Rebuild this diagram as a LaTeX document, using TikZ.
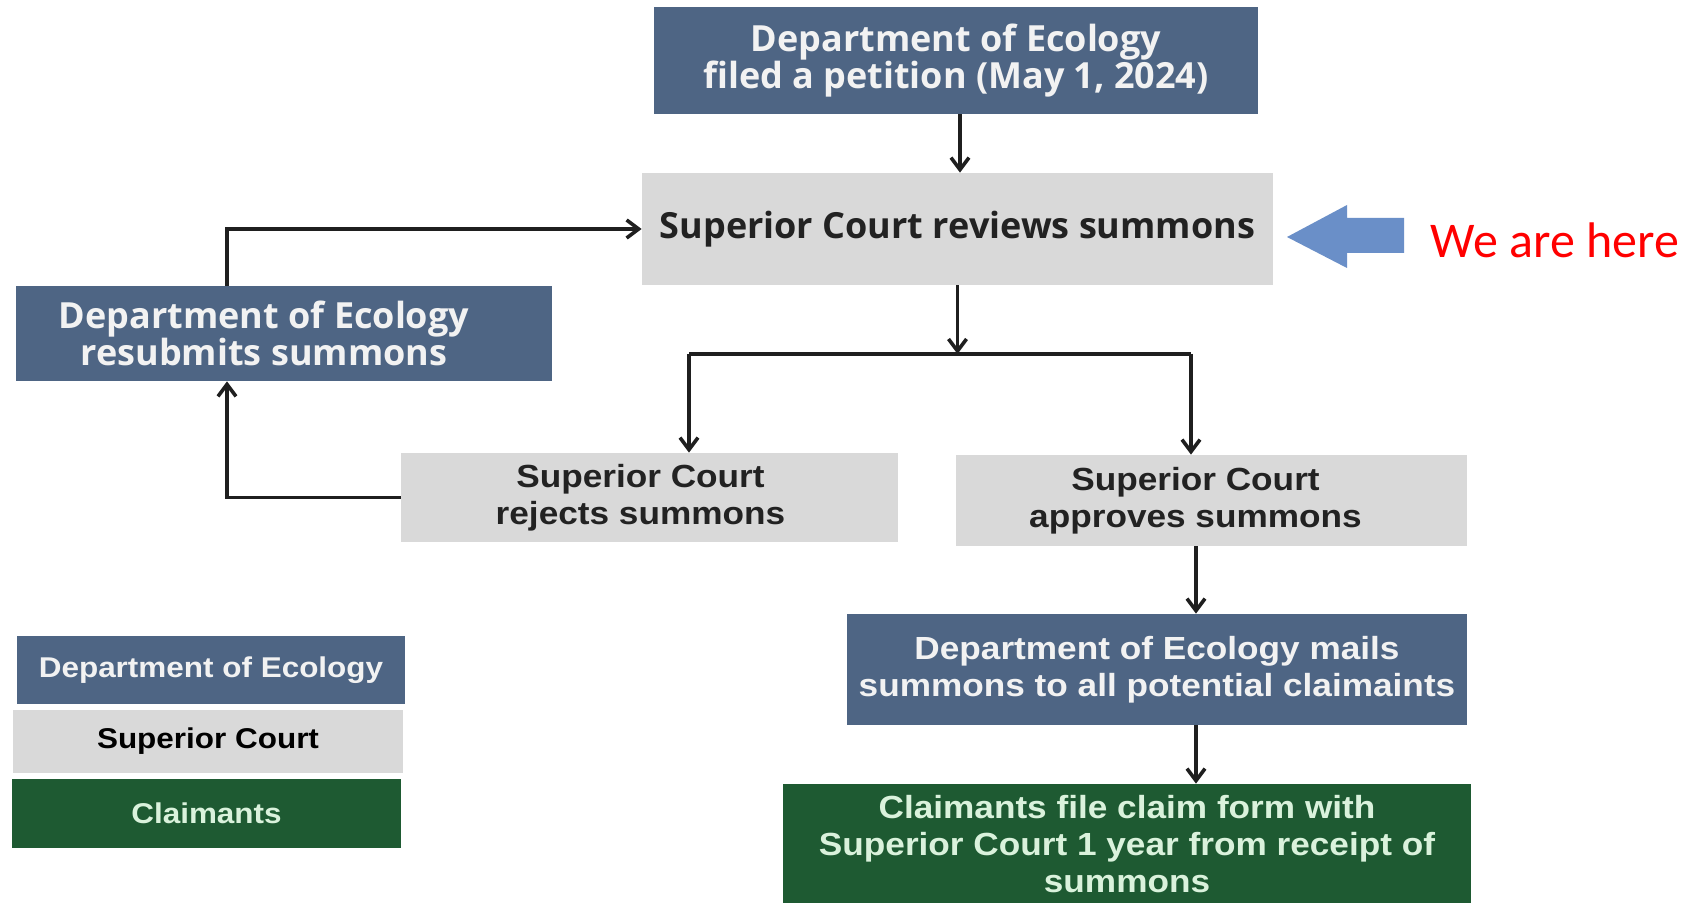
\documentclass[tikz,border=0pt]{standalone}
\usepackage{fontspec}
\setmainfont{Open Sans}
\newfontfamily\condfont[FakeStretch=1.1]{Liberation Sans}
\newfontfamily\calfont{Carlito}
\usetikzlibrary{arrows.meta}
\definecolor{deblue}{HTML}{4E6584}
\definecolor{scgray}{HTML}{D9D9D9}
\definecolor{clgreen}{HTML}{1E5A32}
\definecolor{arrowblue}{HTML}{6A8FC8}
\definecolor{cltext}{HTML}{DAF2DC}
\definecolor{darktext}{HTML}{222222}
\begin{document}
\begin{tikzpicture}[x=0.5pt,y=-0.5pt,
  base/.style={inner sep=0pt, align=center},
  deo/.style={base, fill=deblue, text=white!95!black},
  sc/.style={base, fill=scgray, text=darktext},
  cl/.style={base, fill=clgreen, text=cltext},
  bigfont/.style={font=\bfseries\fontsize{18}{18.4}\selectfont},
  cfont/.style={font=\condfont\bfseries\fontsize{16}{18.7}\selectfont},
  lfont/.style={font=\condfont\bfseries\fontsize{14.3}{17}\selectfont},
  conn/.style={line width=1.8pt, draw=black!88, -{Straight Barb[length=6pt,width=9pt]}},
  plain/.style={line width=1.8pt, draw=black!88}]
\fill[white] (0,0) rectangle (1688,903);
\useasboundingbox (0,0) rectangle (1688,903);

% main flow boxes
\node[deo, bigfont, minimum width=302pt, minimum height=53.5pt] (top) at (956,60.5)
  {Department of Ecology\\filed a petition (May 1, 2024)};
\node[sc, bigfont, minimum width=315.5pt, minimum height=56pt] (review) at (957.5,229)
  {Superior Court reviews summons};
\node[deo, minimum width=268pt, minimum height=47.5pt,
  label={[bigfont, text=white!95!black, align=center, xshift=-10pt]center:Department of Ecology\\resubmits summons}] (resub) at (284,333.5) {};
\node[sc, minimum width=248.5pt, minimum height=44.5pt,
  label={[cfont, text=darktext, align=center, xshift=-4.5pt]center:Superior Court\\rejects summons}] (reject) at (649.5,497.5) {};
\node[sc, minimum width=255.5pt, minimum height=45.5pt,
  label={[cfont, text=darktext, align=center, xshift=-8pt]center:Superior Court\\approves summons}] (approve) at (1211.5,500.5) {};
\node[deo, cfont, minimum width=310pt, minimum height=55.5pt] (mails) at (1157,669.5)
  {Department of Ecology mails\\summons to all potential claimaints};
\node[cl, cfont, minimum width=344pt, minimum height=60pt] (claim) at (1127,844)
  {Claimants file claim form with\\Superior Court 1 year from receipt of\\summons};

% legend
\node[deo, lfont, minimum width=194pt, minimum height=34pt] (lgde) at (211,670) {Department of Ecology};
\node[sc, lfont, text=black, minimum width=195pt, minimum height=31.5pt] (lgsc) at (208,741.5) {Superior Court};
\node[cl, lfont, minimum width=194.5pt, minimum height=34.5pt] (lgcl) at (206.5,813.5) {Claimants};

% connectors
\coordinate (bL) at (689,354);
\coordinate (bR) at (1191,354);
\coordinate (lp) at (227,0);
\coordinate (vx) at (1196,0);
\coordinate (tx) at (960,0);
\draw[conn] (tx |- top.south) -- (tx |- review.north);
\draw[conn] (review.south) -- (review.south |- bL);
\draw[plain] (bL) -- (bR);
\draw[conn] (bL) -- (bL |- reject.north);
\draw[conn] (bR) -- (bR |- approve.north);
\draw[conn] (reject.west) -| (lp |- resub.south);
\draw[conn] (lp |- resub.north) |- (review.west);
\draw[conn] (vx |- approve.south) -- (vx |- mails.north);
\draw[conn] (vx |- mails.south) -- (vx |- claim.north);

% we are here marker
\fill[arrowblue] (1287,237) -- (1347,205) -- (1347,218) -- (1404,218) -- (1404,253)
  -- (1347,253) -- (1347,268) -- cycle;
\node[anchor=west, inner sep=0pt, text=red, font=\calfont\fontsize{25}{30}\selectfont] (here) at (1430,240) {We are here};
\end{tikzpicture}
\end{document}
